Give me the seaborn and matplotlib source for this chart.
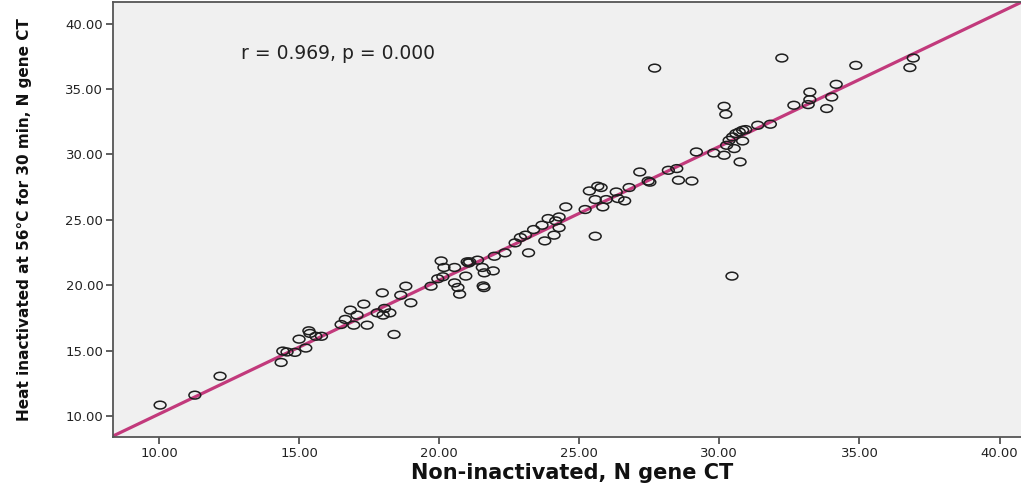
import numpy as np
import pandas as pd
import matplotlib
matplotlib.use("Agg")
import matplotlib.pyplot as plt
import seaborn as sns
from matplotlib.path import Path
from matplotlib.transforms import Affine2D

# ---- data ----
non_inactivated = [
    10.04, 11.28, 12.18, 14.36, 14.42, 14.57, 14.85, 15.00, 15.24, 15.35,
    15.39, 15.60, 15.80, 16.50, 16.65, 16.83, 16.95, 17.07, 17.31, 17.43,
    17.79, 17.97, 18.00, 18.05, 18.24, 18.39, 18.63, 18.81, 18.99, 19.71,
    19.95, 20.07, 20.13, 20.17, 20.55, 20.55, 20.67, 20.73, 20.95, 21.00,
    21.09, 21.05, 21.37, 21.54, 21.61, 21.57, 21.60, 21.93, 21.97, 22.35,
    22.71, 22.90, 23.08, 23.19, 23.37, 23.67, 23.77, 23.89, 24.16, 24.28,
    24.28, 24.10, 24.52, 25.21, 25.36, 25.57, 25.66, 25.78, 25.57, 25.84,
    25.96, 26.32, 26.38, 26.62, 26.78, 27.16, 27.46, 27.52, 27.69, 28.18,
    28.48, 28.54, 29.02, 29.18, 29.80, 30.17, 30.23, 30.17, 30.26, 30.35,
    30.47, 30.59, 30.71, 30.83, 30.94, 30.53, 30.83, 30.74, 30.45, 31.37,
    31.82, 32.23, 32.66, 33.23, 33.23, 33.17, 33.83, 34.01, 34.17, 34.87,
    36.92, 36.80,
]
heat_inactivated = [
    10.84, 11.60, 13.05, 14.10, 14.97, 14.90, 14.87, 15.88, 15.20, 16.52,
    16.32, 16.10, 16.10, 17.00, 17.39, 18.10, 16.95, 17.72, 18.56, 16.95,
    17.89, 19.42, 17.72, 18.23, 17.89, 16.24, 19.24, 19.93, 18.66, 19.93,
    20.50, 21.86, 20.65, 21.36, 21.36, 20.18, 19.83, 19.32, 20.70, 21.79,
    21.79, 21.70, 21.92, 21.36, 20.95, 19.95, 19.82, 21.10, 22.22, 22.48,
    23.24, 23.65, 23.83, 22.48, 24.26, 24.59, 23.39, 25.10, 24.92, 25.22,
    24.40, 23.83, 25.99, 25.79, 27.21, 26.55, 27.57, 27.47, 23.75, 25.99,
    26.55, 27.13, 26.63, 26.45, 27.47, 28.66, 27.97, 27.88, 36.60, 28.79,
    28.92, 28.03, 27.97, 30.19, 30.11, 33.68, 33.07, 29.94, 30.70, 31.08,
    31.34, 31.60, 31.72, 31.85, 31.90, 30.45, 31.03, 29.43, 20.70, 32.23,
    32.31, 37.37, 33.76, 34.77, 34.19, 33.81, 33.51, 34.39, 35.36, 36.81,
    37.37, 36.64,
]
tick_values = [10, 15, 20, 25, 30, 35, 40]
tick_labels = ["10.00", "15.00", "20.00", "25.00", "30.00", "35.00", "40.00"]
x_title = "Non-inactivated, N gene CT"
y_title = "Heat inactivated at 56°C for 30 min, N gene CT"
annotation = "r = 0.969, p = 0.000"

df = pd.DataFrame({"x": non_inactivated, "y": heat_inactivated})

sns.set_style("ticks")
plt.rcParams["font.family"] = ["DejaVu Sans"]

fig = plt.figure(figsize=(10.21, 4.86), dpi=100)
ax = fig.add_axes([0.1107, 0.1008, 0.8893 + 0.01, 0.895])
ax.set_facecolor("#F0F0F0")

ax.set_xlim(8.36, 41.13)
ax.set_ylim(8.4, 41.65)

ellipse = Affine2D().scale(1.0, 0.66).transform_path(Path.unit_circle())

sns.regplot(data=df, x="x", y="y", scatter=False, ci=None, truncate=False,
            line_kws={"color": "#C23A7C", "linewidth": 2.3, "zorder": 2}, ax=ax)
sns.scatterplot(data=df, x="x", y="y", marker=ellipse, s=72,
                facecolor="none", edgecolor="#1E1E1E", linewidth=1.1,
                zorder=3, ax=ax)
ax.collections[-1].set_facecolor("none")

ax.set_xlim(8.36, 41.13)
ax.set_ylim(8.4, 41.65)

ax.set_xticks(tick_values)
ax.set_xticklabels(tick_labels)
ax.set_yticks(tick_values)
ax.set_yticklabels(tick_labels)
ax.tick_params(axis="both", direction="out", length=5, width=1.2,
               color="#444444", labelsize=9.5, labelcolor="#222222", pad=2)

for side in ["left", "bottom", "top"]:
    ax.spines[side].set_color("#555555")
    ax.spines[side].set_linewidth(1.3)
ax.spines["right"].set_visible(False)

ax.set_xlabel(x_title, fontsize=15, fontweight="bold", labelpad=2, color="#111111")
ax.set_ylabel(y_title, fontsize=11, fontweight="bold", labelpad=24, color="#111111")

ax.text(12.91, 37.73, annotation, fontsize=13.5, va="center", ha="left", color="#222222")

fig.savefig("out.png", dpi=100, facecolor="white")
